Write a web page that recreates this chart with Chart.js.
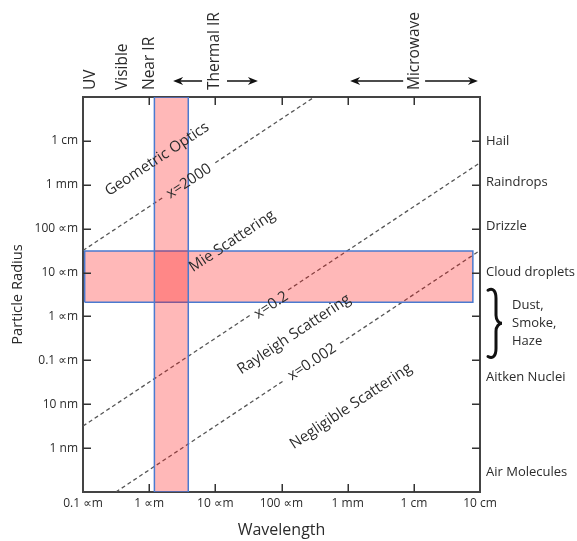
<!DOCTYPE html>
<html>
<head>
<meta charset="utf-8">
<script src="https://cdn.jsdelivr.net/npm/chart.js@4"></script>
<style>
  html, body { margin: 0; padding: 0; background: #fff; }
  canvas { display: block; }
</style>
</head>
<body>
<canvas id="chart" width="577" height="541"></canvas>
<script>
const FONT = '"Open Sans", "DejaVu Sans", sans-serif';
const INK = '#2b2b2b';

// Wavelength axis (metres)
const wavelengthTicks = [1e-7, 1e-6, 1e-5, 1e-4, 1e-3, 1e-2, 1e-1];
const wavelengthLabels = ['0.1 ∝m', '1 ∝m', '10 ∝m', '100 ∝m', '1 mm', '1 cm', '10 cm'];

// Particle radius axis (metres)
const radiusTicks = [1e-2, 1e-3, 1e-4, 1e-5, 1e-6, 1e-7, 1e-8, 1e-9];
const radiusLabels = ['1 cm', '1 mm', '100 ∝m', '10 ∝m', '1 ∝m', '0.1 ∝m', '10 nm', '1 nm'];

// Particle types along the right edge
const particleNames = ['Hail', 'Raindrops', 'Drizzle', 'Cloud droplets', 'Aitken Nuclei', 'Air Molecules'];
const particleRadii = [1e-2, 1.14e-3, 1.13e-4, 1e-5, 4.1e-8, 2.8e-10];
const hazeLines = ['Dust,', 'Smoke,', 'Haze'];
const hazeRadiusRange = [4.4e-6, 1.1e-7];

// Spectral regions along the top edge
const bandNames = ['UV', 'Visible', 'Near IR', 'Thermal IR', 'Microwave'];
const bandWavelengths = [1.3e-7, 3.9e-7, 1.03e-6, 9.9e-6, 1.03e-2];
// arrows: [tail, head] wavelengths
const bandArrows = [[6.3e-6, 2.3e-6], [1.5e-5, 4.4e-5], [6.9e-3, 1.09e-3], [1.48e-2, 9.3e-2]];

// Highlighted windows
const vBandWavelength = [1.2e-6, 3.9e-6];
const vBandRadius = [1e-10, 1e-1];
const hBandWavelength = [1.06e-7, 7.8e-2];
const hBandRadius = [2.1e-6, 3.1e-5];

// Size-parameter boundaries x = 2*pi*r/lambda, split where the label sits
const x2000Segments = [
  [[1e-7, 3.18e-5], [1.63e-6, 5.18e-4]],
  [[1e-5, 3.18e-3], [3.14e-4, 1e-1]]
];
const x02Segments = [
  [[1e-7, 3.18e-9], [3.36e-5, 1.07e-6]],
  [[1.26e-4, 4.0e-6], [1e-1, 3.18e-3]]
];
const x0002Segments = [
  [[3.14e-7, 1e-10], [1.13e-4, 3.6e-8]],
  [[7.7e-4, 2.44e-7], [1e-1, 3.18e-5]]
];

// Region / boundary labels, placed along the diagonal
const regionLabels = ['Geometric Optics', 'x=2000', 'Mie Scattering', 'x=0.2', 'Rayleigh Scattering', 'x=0.002', 'Negligible Scattering'];
const regionWavelengths = [1.32e-6, 4.0e-6, 1.8e-5, 7.0e-5, 1.55e-4, 2.9e-4, 1.12e-3];
const regionRadii = [3.81e-3, 1.2e-3, 5.2e-5, 1.8e-6, 3.9e-7, 9.1e-8, 9e-9];

const rect = (xs, ys) => [
  {x: xs[0], y: ys[0]}, {x: xs[1], y: ys[0]}, {x: xs[1], y: ys[1]},
  {x: xs[0], y: ys[1]}, {x: xs[0], y: ys[0]}
];
const toPoints = seg => seg.map(p => ({x: p[0], y: p[1]}));

const bandStyle = {
  showLine: true, fill: 'shape', tension: 0, pointRadius: 0,
  backgroundColor: 'rgba(255, 20, 20, 0.3)', borderColor: '#4a7ad0', borderWidth: 1.5
};
const dashStyle = {
  showLine: true, fill: false, tension: 0, pointRadius: 0,
  borderColor: '#555', borderWidth: 1.3, borderDash: [4, 3]
};

const datasets = [
  Object.assign({data: rect(vBandWavelength, vBandRadius)}, bandStyle),
  Object.assign({data: rect(hBandWavelength, hBandRadius)}, bandStyle)
];
[x2000Segments, x02Segments, x0002Segments].forEach(segs =>
  segs.forEach(s => datasets.push(Object.assign({data: toPoints(s)}, dashStyle))));

const fixedTicks = values => scale => { scale.ticks = values.map(v => ({value: v})); };

// inward tick marks on all four sides
const tickMarks = {
  id: 'tickMarks',
  afterDatasetsDraw(chart) {
    const {ctx, chartArea: a, scales} = chart;
    ctx.save();
    ctx.strokeStyle = '#333';
    ctx.lineWidth = 1.5;
    ctx.beginPath();
    const len = 8;
    wavelengthTicks.slice(1, -1).forEach(v => {
      const px = Math.round(scales.x.getPixelForValue(v)) + 0.25;
      ctx.moveTo(px, a.bottom); ctx.lineTo(px, a.bottom - len);
      ctx.moveTo(px, a.top); ctx.lineTo(px, a.top + len);
    });
    radiusTicks.forEach(v => {
      const py = Math.round(scales.y.getPixelForValue(v)) + 0.25;
      ctx.moveTo(a.left, py); ctx.lineTo(a.left + len, py);
      ctx.moveTo(a.right, py); ctx.lineTo(a.right - len, py);
    });
    ctx.stroke();
    ctx.restore();
  }
};

// text annotations: regions, spectral bands, arrows, brace
const annotations = {
  id: 'annotations',
  afterDraw(chart) {
    const {ctx, chartArea: a, scales} = chart;
    const xs = scales.x, ys = scales.y;
    ctx.save();
    ctx.fillStyle = INK;

    // slope of a constant-x line in pixel space
    const dx = xs.getPixelForValue(1e-3) - xs.getPixelForValue(1e-4);
    const dy = ys.getPixelForValue(1e-3) - ys.getPixelForValue(1e-4);
    const angle = Math.atan2(dy, dx);
    ctx.font = '15px ' + FONT;
    ctx.textAlign = 'center';
    ctx.textBaseline = 'middle';
    regionLabels.forEach((t, i) => {
      ctx.save();
      ctx.translate(xs.getPixelForValue(regionWavelengths[i]), ys.getPixelForValue(regionRadii[i]));
      ctx.rotate(angle);
      ctx.fillText(t, 0, 0);
      ctx.restore();
    });

    // spectral band names, reading upward
    ctx.font = '15.5px ' + FONT;
    ctx.textAlign = 'left';
    bandNames.forEach((t, i) => {
      ctx.save();
      ctx.translate(xs.getPixelForValue(bandWavelengths[i]), a.top - 7);
      ctx.rotate(-Math.PI / 2);
      ctx.fillText(t, 0, 0);
      ctx.restore();
    });

    // arrows
    const ay = a.top - 16;
    ctx.strokeStyle = '#111';
    ctx.fillStyle = '#111';
    ctx.lineWidth = 1.5;
    bandArrows.forEach(([tail, head]) => {
      const x0 = xs.getPixelForValue(tail), x1 = xs.getPixelForValue(head);
      const dir = Math.sign(x1 - x0);
      ctx.beginPath();
      ctx.moveTo(x0, ay); ctx.lineTo(x1 - dir * 6, ay);
      ctx.stroke();
      ctx.beginPath();
      ctx.moveTo(x1, ay);
      ctx.lineTo(x1 - dir * 10, ay - 4);
      ctx.lineTo(x1 - dir * 7, ay);
      ctx.lineTo(x1 - dir * 10, ay + 4);
      ctx.closePath();
      ctx.fill();
    });

    // brace for dust / smoke / haze
    const y1 = ys.getPixelForValue(hazeRadiusRange[0]);
    const y2 = ys.getPixelForValue(hazeRadiusRange[1]);
    const ym = (y1 + y2) / 2;
    const bx = a.right + 8, w = 14, mid = bx + 8;
    ctx.lineWidth = 3;
    ctx.lineCap = 'round';
    ctx.beginPath();
    ctx.moveTo(bx, y1 + 2);
    ctx.bezierCurveTo(bx + 5, y1 - 1, mid, y1 + 3, mid, y1 + 10);
    ctx.lineTo(mid, ym - 8);
    ctx.bezierCurveTo(mid, ym - 3, bx + w - 3, ym, bx + w, ym);
    ctx.bezierCurveTo(bx + w - 3, ym, mid, ym + 3, mid, ym + 8);
    ctx.lineTo(mid, y2 - 10);
    ctx.bezierCurveTo(mid, y2 - 3, bx + 5, y2 + 1, bx, y2 - 2);
    ctx.stroke();

    ctx.fillStyle = INK;
    ctx.font = '13px ' + FONT;
    ctx.textAlign = 'left';
    ctx.textBaseline = 'middle';
    hazeLines.forEach((t, i) => {
      ctx.fillText(t, bx + 24, ym + (i - 1) * 18);
    });
    ctx.restore();
  }
};

const tickFont = {family: FONT, size: 12};
const noGrid = {display: false, drawTicks: false};
const frame = {display: true, color: '#444', width: 2};

new Chart(document.getElementById('chart'), {
  type: 'scatter',
  data: {datasets},
  options: {
    responsive: false,
    devicePixelRatio: 1,
    animation: false,
    layout: {padding: 0},
    plugins: {legend: {display: false}, tooltip: {enabled: false}},
    scales: {
      x: {
        type: 'logarithmic', position: 'bottom', min: 1e-7, max: 1e-1,
        grid: noGrid, border: frame,
        afterBuildTicks: fixedTicks(wavelengthTicks),
        afterFit: s => { s.height = 49; },
        ticks: {
          autoSkip: false, maxRotation: 0, padding: 4, color: INK, font: tickFont,
          callback: (v, i) => wavelengthLabels[i]
        },
        title: {display: true, text: 'Wavelength', color: INK, font: {family: FONT, size: 16}, padding: {top: 0, bottom: 1}}
      },
      xTop: {
        type: 'logarithmic', position: 'top', min: 1e-7, max: 1e-1,
        grid: noGrid, border: frame,
        ticks: {display: false},
        afterFit: s => { s.height = 97; }
      },
      y: {
        type: 'logarithmic', position: 'left', min: 1e-10, max: 1e-1,
        grid: noGrid, border: frame,
        afterBuildTicks: fixedTicks(radiusTicks),
        afterFit: s => { s.width = 83; },
        ticks: {
          autoSkip: false, padding: 5, color: INK, font: tickFont,
          callback: (v, i) => radiusLabels[i]
        },
        title: {display: true, text: 'Particle Radius', color: INK, font: {family: FONT, size: 14.7}, padding: {top: 9, bottom: 0}}
      },
      yRight: {
        type: 'logarithmic', position: 'right', min: 1e-10, max: 1e-1,
        grid: noGrid, border: frame,
        afterBuildTicks: fixedTicks(particleRadii),
        afterFit: s => { s.width = 97; },
        ticks: {
          autoSkip: false, padding: 6, color: INK, font: {family: FONT, size: 13},
          callback: (v, i) => particleNames[i]
        }
      }
    }
  },
  plugins: [tickMarks, annotations]
});
</script>
</body>
</html>
